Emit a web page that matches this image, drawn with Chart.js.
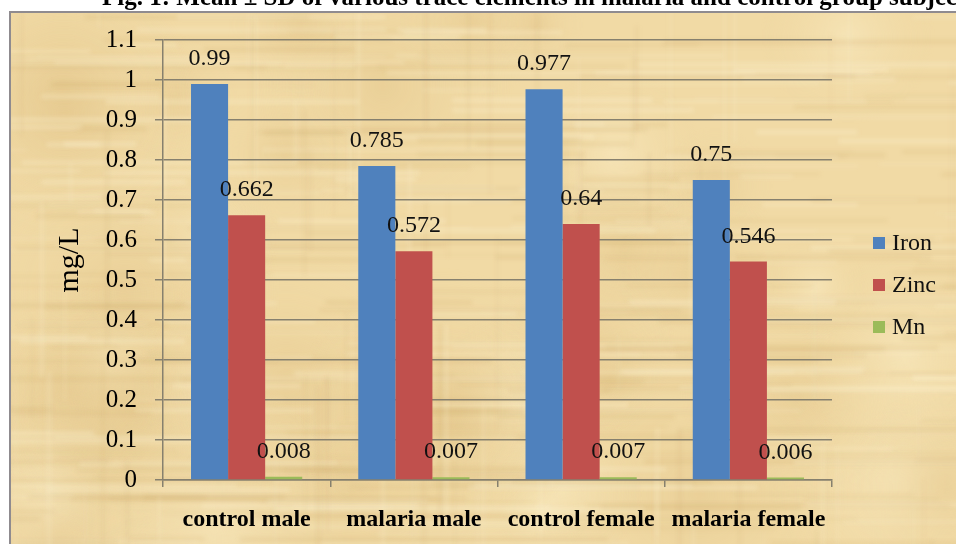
<!DOCTYPE html>
<html>
<head>
<meta charset="utf-8">
<script src="https://cdn.jsdelivr.net/npm/chart.js@4"></script>
<style>
  html, body { margin: 0; padding: 0; background: #fff; }
  canvas { display: block; }
</style>
</head>
<body>
<canvas id="chart" width="956" height="544"></canvas>
<script>
// ---- data ----
const categories = ['control male', 'malaria male', 'control female', 'malaria female'];
const seriesNames = ['Iron', 'Zinc', 'Mn'];
const iron = [0.99, 0.785, 0.977, 0.75];
const zinc = [0.662, 0.572, 0.64, 0.546];
const mn = [0.008, 0.007, 0.007, 0.006];
const seriesColors = ['#4F81BD', '#C0504D', '#9BBB59'];
const caption = 'Fig. 1: Mean \u00B1 SD of various trace elements in malaria and control group subjects';
const axisTitle = 'mg/L';

const SERIF = '"Liberation Serif", "Times New Roman", serif';
const LINE = '#86806e';

// ---- papyrus-like paper texture ----
function hash(n) {
  const s = Math.sin(n * 127.1 + 311.7) * 43758.5453;
  return s - Math.floor(s);
}
let paperCache = null;
function paperTexture(w, h) {
  if (paperCache) return paperCache;
  const c = document.createElement('canvas');
  c.width = w; c.height = h;
  const g = c.getContext('2d');
  g.fillStyle = '#F1DAA5';
  g.fillRect(0, 0, w, h);
  g.filter = 'blur(2px)';
  // broad light / dark patches
  for (let i = 0; i < 40; i++) {
    const x = hash(i + 11) * w, y = hash(i + 57) * h;
    const r = 40 + hash(i + 91) * 120;
    const light = hash(i + 133) > 0.45;
    const grd = g.createRadialGradient(x, y, 0, x, y, r);
    grd.addColorStop(0, light ? 'rgba(250,236,196,0.55)' : 'rgba(222,190,128,0.35)');
    grd.addColorStop(1, 'rgba(241,218,165,0)');
    g.fillStyle = grd;
    g.fillRect(x - r, y - r, r * 2, r * 2);
  }
  // horizontal fibres
  for (let i = 0; i < 320; i++) {
    const y = hash(i + 1000) * h;
    const x = hash(i + 2000) * (w + 200) - 150;
    const len = 50 + hash(i + 3000) * 320;
    const th = 1 + hash(i + 4000) * 4;
    const light = hash(i + 5000) > 0.5;
    g.fillStyle = light ? 'rgba(252,240,205,0.35)' : 'rgba(196,160,96,0.16)';
    g.fillRect(x, y, len, th);
  }
  // vertical fibres
  for (let i = 0; i < 90; i++) {
    const x = hash(i + 6000) * w;
    const y = hash(i + 7000) * (h + 100) - 80;
    const len = 40 + hash(i + 8000) * 200;
    const th = 1 + hash(i + 9000) * 3;
    const light = hash(i + 9500) > 0.5;
    g.fillStyle = light ? 'rgba(252,240,205,0.25)' : 'rgba(196,160,96,0.12)';
    g.fillRect(x, y, th, len);
  }
  g.filter = 'none';
  paperCache = c;
  return c;
}

// background, frame and the (clipped) figure caption
const paperPlugin = {
  id: 'paper',
  beforeDraw(chart) {
    const { ctx, width, height } = chart;
    ctx.save();
    ctx.fillStyle = '#fff';
    ctx.fillRect(0, 0, width, height);
    ctx.drawImage(paperTexture(width - 11, height - 13), 11, 13);
    ctx.fillStyle = '#8f8b8f';
    ctx.fillRect(9, 11, width - 9, 2);
    ctx.fillRect(9, 11, 2, height - 11);
    ctx.beginPath();
    ctx.rect(0, 0, width, 11);
    ctx.clip();
    ctx.font = 'bold 25px ' + SERIF;
    ctx.fillStyle = '#000';
    ctx.textBaseline = 'alphabetic';
    ctx.textAlign = 'left';
    ctx.fillText(caption, 102, 5);
    ctx.restore();
  }
};

// value labels above each bar
const valueLabels = {
  id: 'valueLabels',
  afterDatasetsDraw(chart) {
    const ctx = chart.ctx;
    ctx.save();
    ctx.font = '24px ' + SERIF;
    ctx.fillStyle = '#111';
    ctx.textAlign = 'center';
    ctx.textBaseline = 'middle';
    chart.data.datasets.forEach((ds, i) => {
      chart.getDatasetMeta(i).data.forEach((bar, j) => {
        ctx.fillText(String(ds.data[j]), bar.x, bar.y - 25);
      });
    });
    ctx.restore();
  }
};

// legend on the right of the plot
const sideLegend = {
  id: 'sideLegend',
  afterDraw(chart) {
    const { ctx, chartArea } = chart;
    const x = chartArea.right + 41;
    const mid = (chartArea.top + chartArea.bottom) / 2 + 25;
    const gap = 42;
    ctx.save();
    ctx.font = '24px ' + SERIF;
    ctx.textAlign = 'left';
    ctx.textBaseline = 'middle';
    chart.data.datasets.forEach((ds, i) => {
      const y = mid + (i - 1) * gap;
      ctx.fillStyle = ds.backgroundColor;
      ctx.fillRect(x, y - 6, 12, 12);
      ctx.fillStyle = '#111';
      ctx.fillText(ds.label, x + 19, y + 1);
    });
    ctx.restore();
  }
};

Chart.defaults.font.family = SERIF;
Chart.defaults.color = '#000';

new Chart(document.getElementById('chart'), {
  type: 'bar',
  data: {
    labels: categories,
    datasets: [iron, zinc, mn].map((values, i) => ({
      label: seriesNames[i],
      data: values,
      backgroundColor: seriesColors[i],
      borderWidth: 0,
      categoryPercentage: 0.665,
      barPercentage: 1
    }))
  },
  options: {
    responsive: false,
    animation: false,
    devicePixelRatio: 1,
    layout: { padding: { left: 0, right: 124, top: 40, bottom: 0 } },
    plugins: {
      legend: { display: false },
      tooltip: { enabled: false }
    },
    scales: {
      x: {
        grid: { display: true, drawOnChartArea: false, drawTicks: true, tickLength: 7, color: LINE, lineWidth: 1.5, offset: true },
        border: { display: true, color: LINE, width: 1.5 },
        ticks: {
          font: { size: 24, weight: 'bold', family: SERIF },
          color: '#000',
          padding: 18,
          maxRotation: 0,
          autoSkip: false
        },
        afterFit(scale) { scale.height = 64; }
      },
      y: {
        min: 0,
        max: 1.1,
        grid: { color: LINE, tickLength: 8, lineWidth: 1.5 },
        border: { display: true, color: LINE, width: 1.5 },
        ticks: {
          stepSize: 0.1,
          font: { size: 25, family: SERIF },
          color: '#000',
          padding: 18,
          callback: v => String(+Number(v).toFixed(1))
        },
        title: {
          display: true,
          text: axisTitle,
          font: { size: 30, family: SERIF },
          color: '#000',
          padding: { top: 52, bottom: 0 }
        },
        afterFit(scale) { scale.width = 163; }
      }
    }
  },
  plugins: [paperPlugin, valueLabels, sideLegend]
});
</script>
</body>
</html>
